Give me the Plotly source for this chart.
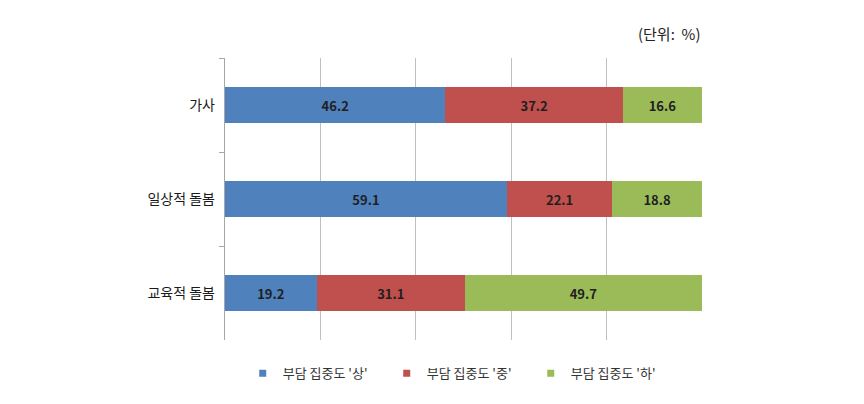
import plotly.graph_objects as go

categories = ["가사", "일상적 돌봄", "교육적 돌봄"]
series_names = ["부담 집중도 '상'", "부담 집중도 '중'", "부담 집중도 '하'"]
high = [46.2, 59.1, 19.2]
mid = [37.2, 22.1, 31.1]
low = [16.6, 18.8, 49.7]
colors = ["#4F81BD", "#C0504D", "#9BBB59"]

FONT = "Noto Sans CJK KR"

fig = go.Figure()
for name, vals, col in zip(series_names, [high, mid, low], colors):
    fig.add_trace(go.Bar(
        y=categories, x=vals, name=name, orientation="h",
        marker=dict(color=col, line=dict(width=0)),
        text=[f"{v:.1f}" for v in vals], textposition="inside",
        insidetextanchor="middle",
        textfont=dict(family=FONT, size=13, color="#1f1f1f", weight="bold"),
        width=0.38, showlegend=False, legendgroup=name,
    ))
# legend entries with small square symbols
for name, col in zip(series_names, colors):
    fig.add_trace(go.Scatter(
        x=[None], y=[None], mode="markers", name=name, legendgroup=name,
        marker=dict(symbol="square", size=7, color=col),
        showlegend=True,
    ))

fig.update_layout(
    barmode="stack",
    width=864, height=404,
    margin=dict(l=225, r=162, t=58, b=64),
    paper_bgcolor="white", plot_bgcolor="white",
    font=dict(family=FONT, size=12, color="#222"),
    showlegend=True,
    legend=dict(orientation="h", x=0.49, xanchor="center", y=-0.065, yanchor="top",
                font=dict(family=FONT, size=13, color="#333"),
                entrywidth=99, traceorder="normal", itemwidth=30),
    xaxis=dict(range=[0, 100], tickvals=[0, 20, 40, 60, 80, 100], showticklabels=False,
               showgrid=True, gridcolor="#BFBFBF", gridwidth=1, zeroline=False,
               showline=False, ticks=""),
    yaxis=dict(autorange="reversed", showline=True, linecolor="#A6A6A6", linewidth=1,
               ticks="outside", tickson="boundaries", ticklen=5, tickcolor="#A6A6A6",
               tickfont=dict(family=FONT, size=14, color="#1a1a1a"), ticksuffix="  ",
               showgrid=False, type="category"),
    annotations=[dict(text="(단위:  %)", xref="paper", yref="paper", x=1.0, y=1.0,
                      xanchor="right", yanchor="bottom", yshift=12, showarrow=False,
                      font=dict(family=FONT, size=15, color="#222"))],
)

fig.write_html("out.html")
